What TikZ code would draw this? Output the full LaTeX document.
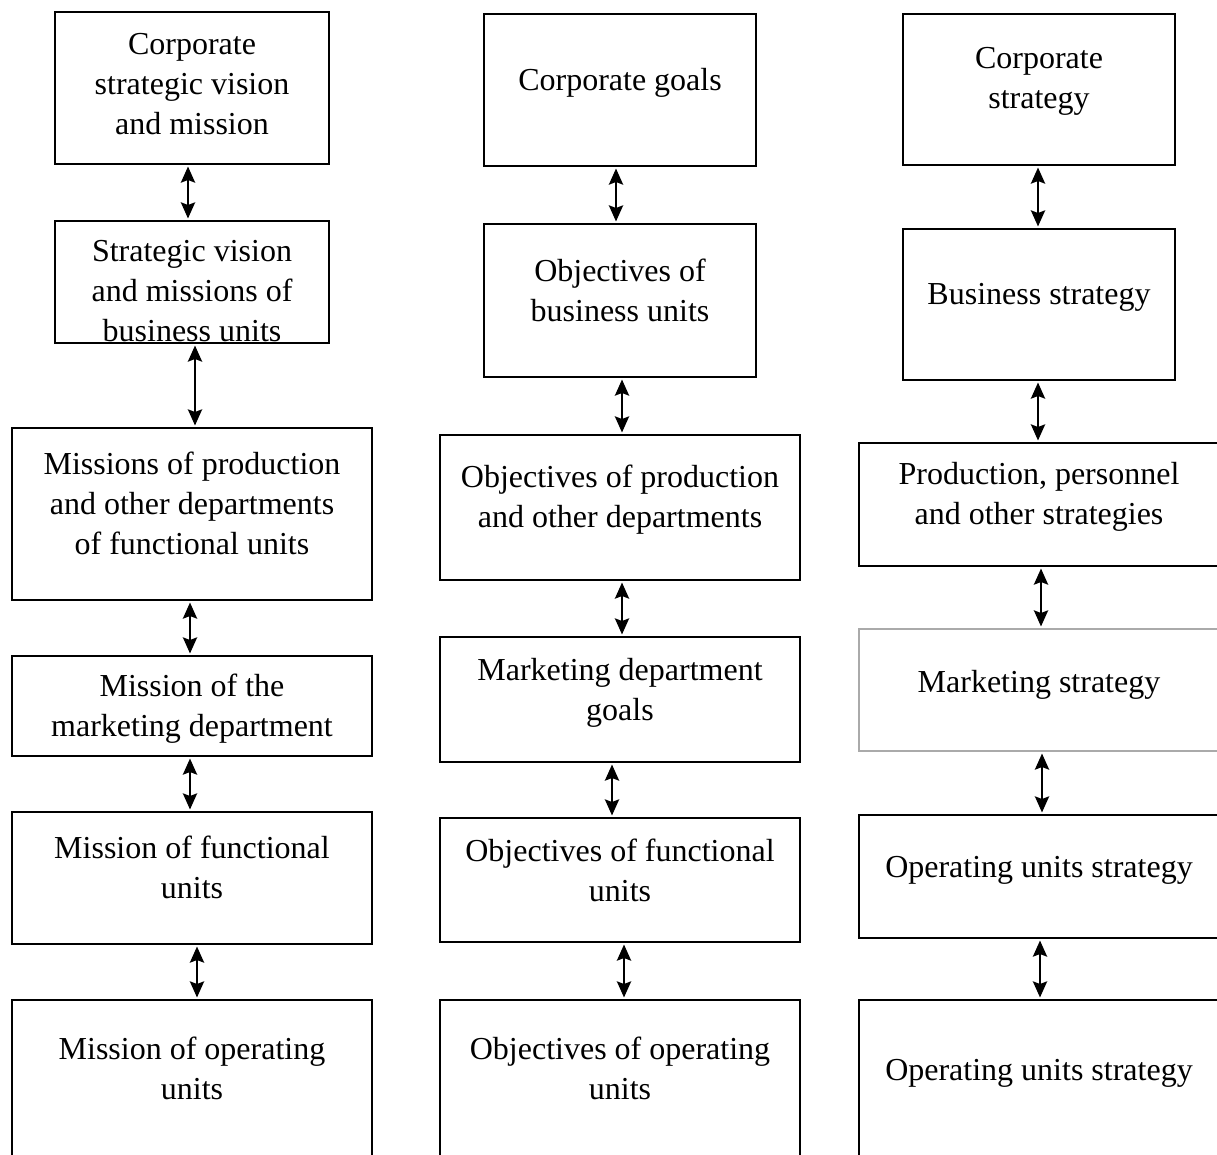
\documentclass[tikz,border=0pt]{standalone}
\usepackage{fontspec}
\setmainfont{Liberation Serif}
\usetikzlibrary{arrows.meta}
\newcommand\boxat[6][]{%
  \node[box,#1,minimum width={(#4-#2)*1pt},minimum height={(#5-#3)*1pt}] (#6) at ({(#2+#4)/2},{(#3+#5)/2}) {};}
\begin{document}
\begin{tikzpicture}[x=1pt,y=-1pt,
  box/.style={draw=black,line width=2.6pt,rectangle,inner sep=0pt,outer sep=0pt},
  graybox/.style={draw={rgb,255:red,170;green,170;blue,170}},
  txt/.style={align=center,font=\fontsize{32}{40}\selectfont,inner sep=0pt},
  conn/.style={line width=2.8pt,{Stealth[length=16pt,width=14pt,inset=2.5pt]}-{Stealth[length=16pt,width=14pt,inset=2.5pt]},shorten <=2.5pt,shorten >=2.5pt}]
\useasboundingbox (0,0) rectangle (1217,1154);
\clip (0,0) rectangle (1217,1154);
% column 1
\boxat{55}{12}{329}{164}{a1}
\boxat{55}{221}{329}{343}{a2}
\boxat{12}{428}{372}{600}{a3}
\boxat{12}{656}{372}{756}{a4}
\boxat{12}{812}{372}{944}{a5}
\boxat{12}{1000}{372}{1175}{a6}
% column 2
\boxat{484}{14}{756}{166}{b1}
\boxat{484}{224}{756}{377}{b2}
\boxat{440}{435}{800}{580}{b3}
\boxat{440}{637}{800}{762}{b4}
\boxat{440}{818}{800}{942}{b5}
\boxat{440}{1000}{800}{1175}{b6}
% column 3
\boxat{903}{14}{1175}{165}{c1}
\boxat{903}{229}{1175}{380}{c2}
\boxat{859}{443}{1225}{566}{c3}
\boxat[graybox]{859}{629}{1225}{751}{c4}
\boxat{859}{815}{1225}{938}{c5}
\boxat{859}{1000}{1225}{1175}{c6}
% texts
\node[txt] (ta1) at (192,84) {Corporate\\strategic vision\\and mission};
\node[txt] (ta2) at (192,291) {Strategic vision\\and missions of\\business units};
\node[txt] (ta3) at (192,503) {Missions of production\\and other departments\\of functional units};
\node[txt] (ta4) at (192,709) {Mission of the\\marketing department};
\node[txt] (ta5) at (192,867) {Mission of functional\\units};
\node[txt] (ta6) at (192,1068) {Mission of operating\\units};
\node[txt] (tb1) at (620,83) {Corporate goals};
\node[txt] (tb2) at (620,290) {Objectives of\\business units};
\node[txt] (tb3) at (620,500) {Objectives of production\\and other departments};
\node[txt] (tb4) at (620,693) {Marketing department\\goals};
\node[txt] (tb5) at (620,870) {Objectives of functional\\units};
\node[txt] (tb6) at (620,1068) {Objectives of operating\\units};
\node[txt] (tc1) at (1039,81) {Corporate\\strategy};
\node[txt] (tc2) at (1039,297) {Business strategy};
\node[txt] (tc3) at (1039,497) {Production, personnel\\and other strategies};
\node[txt] (tc4) at (1039,685) {Marketing strategy};
\node[txt] (tc5) at (1039,870) {Operating units strategy};
\node[txt] (tc6) at (1039,1073) {Operating units strategy};
% connectors
\draw[conn] (a1.south -| 188,0) -- (a2.north -| 188,0);
\draw[conn] (a2.south -| 195,0) -- (a3.north -| 195,0);
\draw[conn] (a3.south -| 190,0) -- (a4.north -| 190,0);
\draw[conn] (a4.south -| 190,0) -- (a5.north -| 190,0);
\draw[conn] (a5.south -| 197,0) -- (a6.north -| 197,0);
\draw[conn] (b1.south -| 616,0) -- (b2.north -| 616,0);
\draw[conn] (b2.south -| 622,0) -- (b3.north -| 622,0);
\draw[conn] (b3.south -| 622,0) -- (b4.north -| 622,0);
\draw[conn] (b4.south -| 612,0) -- (b5.north -| 612,0);
\draw[conn] (b5.south -| 624,0) -- (b6.north -| 624,0);
\draw[conn] (c1.south -| 1038,0) -- (c2.north -| 1038,0);
\draw[conn] (c2.south -| 1038,0) -- (c3.north -| 1038,0);
\draw[conn] (c3.south -| 1041,0) -- (c4.north -| 1041,0);
\draw[conn] (c4.south -| 1042,0) -- (c5.north -| 1042,0);
\draw[conn] (c5.south -| 1040,0) -- (c6.north -| 1040,0);
\end{tikzpicture}
\end{document}
